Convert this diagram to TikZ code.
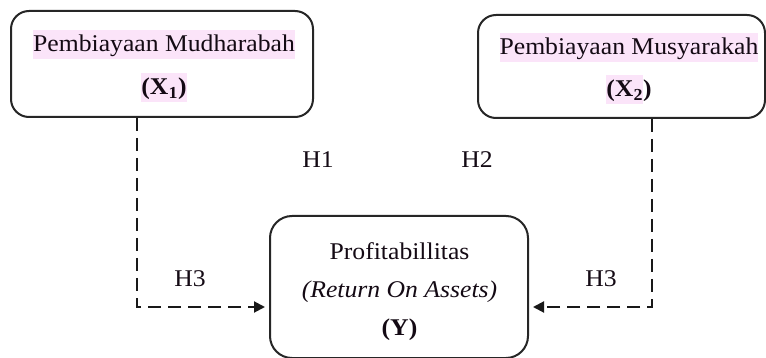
\documentclass[tikz,border=0pt]{standalone}
\usepackage{fontspec}
\setmainfont{Liberation Serif}[FakeStretch=1.07]
\usetikzlibrary{arrows.meta}
\definecolor{hlpink}{RGB}{251,228,249}
\definecolor{txtc}{RGB}{20,10,20}
\newcommand{\hlt}[1]{{\setlength{\fboxsep}{0pt}\colorbox{hlpink}{\rule[-0.3em]{0pt}{1.22em}#1}}}
\tikzset{
  boxst/.style={draw=black!85, line width=2pt, rounded corners=18pt, inner sep=0pt},
  txt/.style={anchor=base, inner sep=0pt, text=txtc, font=\fontsize{24}{29}\selectfont},
  dashline/.style={draw=black!90, line width=2pt, dash pattern=on 13pt off 7pt,
     -{Triangle[length=11pt,width=11pt]}, shorten >=4pt},
}
\begin{document}
\begin{tikzpicture}[x=1pt,y=-1pt]
\useasboundingbox (0,0) rectangle (766,358);
\clip (0,0) rectangle (766,358);
% boxes
\node[boxst, minimum width=302pt, minimum height=106pt] (b1) at (162,64) {};
\node[boxst, minimum width=287pt, minimum height=103pt] (b2) at (621.5,66.5) {};
\node[boxst, rounded corners=22pt, minimum width=258pt, minimum height=142pt] (by) at (399,287) {};
% box texts
\node[txt] (t1a) at (164,52) {\hlt{Pembiayaan Mudharabah}};
\node[txt] (t1b) at (164,95) {\hlt{\textbf{(X\textsubscript{1})}}};
\node[txt] (t2a) at (629,55) {\hlt{Pembiayaan Musyarakah}};
\node[txt] (t2b) at (629,97) {\hlt{\textbf{(X\textsubscript{2}}}\textbf{)}};
\node[txt] (tya) at (399.5,260) {Profitabillitas};
\node[txt] (tyb) at (399.5,298) {\textit{(Return On Assets)}};
\node[txt] (tyc) at (399.5,335) {\textbf{(Y)}};
% labels
\node[txt] (h1) at (318,168) {H1};
\node[txt] (h2) at (477,168) {H2};
\node[txt] (h3l) at (190,287) {H3};
\node[txt] (h3r) at (601,287) {H3};
% connectors
\coordinate (c1) at (137,307);
\coordinate (c2) at (652,307);
\draw[dashline] (b1.south -| c1) -- (c1) -- (by.west |- c1);
\draw[dashline] (b2.south -| c2) -- (c2) -- (by.east |- c2);
\end{tikzpicture}
\end{document}
